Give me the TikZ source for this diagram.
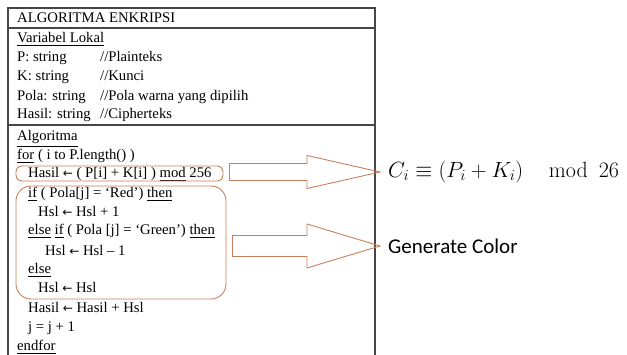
\RequirePackage{fix-cm}
\documentclass[tikz,border=0pt]{standalone}
\usepackage{amsmath}
\usepackage[no-math]{fontspec}
\setmainfont{Liberation Serif}
\newfontfamily\calibri{Carlito}
\newfontfamily\arrowfont{DejaVu Sans}
\newcommand{\assign}{{\arrowfont\fontsize{12}{12}\selectfont ←}}
\usetikzlibrary{calc}

\definecolor{accent}{RGB}{200,128,92}
\definecolor{framegray}{RGB}{70,70,70}

\begin{document}
\begin{tikzpicture}[x=1pt,y=-1pt,
    line/.style={anchor=base west,inner sep=0pt,font=\fontsize{14.7}{16}\selectfont},
    hilite/.style={draw=accent,line width=0.9pt},
    blockarrow/.style={draw=accent,line width=0.9pt,line join=miter}]
  \useasboundingbox (0,0) rectangle (627,355);
  % table frame
  \draw[framegray,line width=1.2pt] (8,355) -- (8,8) -- (375,8) -- (375,355);
  \draw[framegray,line width=1.2pt] (8,28) -- (375,28) (8,125) -- (375,125);
  % header and local variables
  \node[line] (title) at (17,23) {ALGORITMA ENKRIPSI};
  \node[line] (varlabel) at (17,43) {\underline{Variabel Lokal}};
  \node[line] (vp) at (17,62) {P: string};
  \node[line] (vk) at (17,81) {K: string};
  \node[line] (vpola) at (17,101) {Pola: string};
  \node[line] (vhasil) at (17,119) {Hasil: string};
  \node[line] (cp) at (100,62) {//Plainteks};
  \node[line] (ck) at (100,81) {//Kunci};
  \node[line] (cpola) at (100,101) {//Pola warna yang dipilih};
  \node[line] (chasil) at (100,119) {//Cipherteks};
  % algorithm body
  \node[line] (alglabel) at (17,141) {\underline{Algoritma}};
  \node[line] (forline) at (17,160) {\underline{for} ( i to P.length() )};
  \node[line] (sumline) at (28,178) {Hasil \assign{} ( P[i] + K[i] ) \underline{mod} 256};
  \node[line] (ifred) at (28,198) {\underline{if} ( Pola[j] = `Red') \underline{then}};
  \node[line] (incr) at (38,217) {Hsl \assign{} Hsl + 1};
  \node[line] (ifgreen) at (28,235) {\underline{else} \underline{if} ( Pola [j] = `Green') \underline{then}};
  \node[line] (decr) at (45,256) {Hsl \assign{} Hsl -- 1};
  \node[line] (elseline) at (28,274) {\underline{else}};
  \node[line] (keep) at (38,293) {Hsl \assign{} Hsl};
  \node[line] (addline) at (28,313) {Hasil \assign{} Hasil + Hsl};
  \node[line] (jline) at (28,332) {j = j + 1};
  \node[line] (endline) at (17,351) {\underline{endfor}};
  % highlighted parts
  \node[hilite,rounded corners=6pt,minimum width=207,minimum height=15] (sumbox) at (119.5,173.5) {};
  \node[hilite,rounded corners=15pt,minimum width=210,minimum height=113] (colorbox) at (121,242.5) {};
  % explanations
  \node[anchor=west,inner sep=0pt,font=\fontsize{22}{26}\selectfont] (cimod) at (388,172)
    {$C_i \equiv (P_i + K_i) \quad \operatorname{mod}\,\,26$};
  \node[anchor=west,inner sep=0pt,font=\calibri\fontsize{21}{24}\selectfont] (gencolor) at (388,246)
    {Generate Color};
  % block arrows
  \draw[blockarrow] let \p1=($(sumbox.east)+(6,0)$), \p2=($(cimod.west)+(-8,0)$) in
    (\x1,\y2+8.5) -- (\x2-73,\y2+8.5) -- (\x2-73,\y2+16.5) -- (\x2,\y2)
    -- (\x2-73,\y2-16.5) -- (\x2-73,\y2-8.5) -- (\x1,\y2-8.5) -- cycle;
  \draw[blockarrow] let \p1=($(colorbox.east)+(6,0)$), \p2=($(gencolor.west)+(-8,0)$) in
    (\x1,\y2+10.5) -- (\x2-73,\y2+10.5) -- (\x2-73,\y2+22) -- (\x2,\y2)
    -- (\x2-73,\y2-22) -- (\x2-73,\y2-10.5) -- (\x1,\y2-10.5) -- cycle;
\end{tikzpicture}
\end{document}
